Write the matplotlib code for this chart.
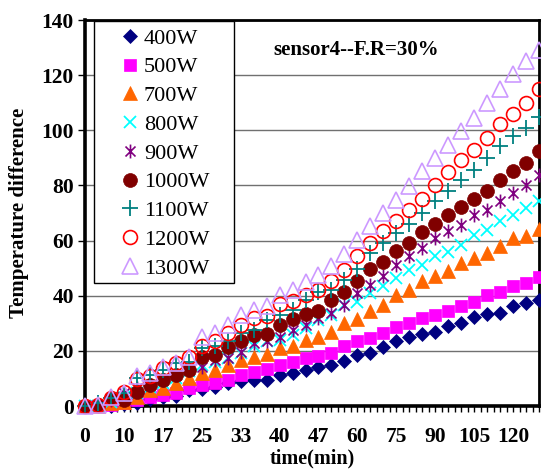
import matplotlib
matplotlib.use("Agg")
import matplotlib.pyplot as plt
from matplotlib.path import Path
from matplotlib.patches import Rectangle
import numpy as np

# ---------------- data ----------------
tick_labels = ["0", "10", "17", "25", "33", "40", "47", "60", "75", "90", "105", "120"]
series_names = ["400W", "500W", "700W", "800W", "900W", "1000W", "1100W", "1200W", "1300W"]

w400 = [0, 0, 0, 0.7, 1, 2.5, 3.2, 3.8, 5.8, 6, 6.8, 8.2, 9, 9.6, 9.6, 11.4, 12.1, 13.1, 14,
        14.9, 16.5, 18.4, 19.1, 21.3, 23.4, 25.2, 26, 27, 29, 30, 32.2, 33.4, 33.9, 36.3, 37.3, 38.5]
w500 = [0, 0, 0.5, 1, 2.2, 3.4, 4, 4.6, 6.4, 7.6, 8.5, 9.4, 11.3, 12.5, 13.3, 14.9, 16.1, 17.3, 18.2,
        19.4, 21.6, 23.4, 24.6, 26.4, 28.8, 30, 31.9, 33, 34.3, 36.1, 37.9, 40.3, 41.5, 43.4, 44.6, 46.7]
w700 = [0, 0, 1, 1.5, 3.4, 5.8, 6.4, 8.2, 10, 11.9, 13.1, 14.9, 16.7, 17.9, 18.9, 21, 21.6, 24, 25.2,
        27, 30, 31.5, 34.3, 36.7, 40.3, 42.1, 45.2, 47.2, 48.8, 51.8, 53.6, 55.5, 57.9, 60.9, 61.5, 64.2]
w800 = [0, 0, 1.6, 3.4, 4.8, 7, 8.5, 10, 12.8, 14.9, 16.1, 17.3, 19.1, 21.6, 23.4, 24, 25.8, 28.2, 31.2,
        33, 36.7, 37.9, 40.9, 43.4, 46.4, 49.4, 51.2, 54.3, 56, 58.5, 62.1, 64, 67, 69.4, 71.8, 74.2]
w900 = [0, 0.5, 2.2, 4.6, 6.4, 7.6, 9.4, 11.3, 13.1, 14.3, 16.7, 17.3, 19.7, 22.8, 23.4, 25.2, 27.6, 29.4, 31.9,
        33.7, 36.7, 40.9, 44, 47, 51.2, 54.3, 57.3, 60.9, 63.3, 65.8, 69.4, 71.2, 74.2, 77.3, 80.3, 83.9]
w1000 = [0, 0.5, 2.8, 2.2, 5.2, 7.6, 9.4, 11.3, 13.1, 17.9, 18.5, 21.3, 23.4, 25.8, 26.2, 29.4, 31.5, 33.4, 34.6,
         38.5, 41.2, 45.4, 49.7, 52.1, 56.1, 59.1, 63, 66.1, 69.4, 72.2, 75.1, 77.9, 82.1, 85.1, 88.2, 92.4]
w1100 = [0, 1, 2.8, 4.6, 10, 11.3, 13.1, 15.5, 16.1, 21, 21.6, 23.4, 26.4, 27.6, 31.2, 33, 34.9, 38.5, 41.5,
         42.1, 45.8, 49.7, 55.5, 59.1, 62.7, 66.1, 70, 74.2, 77.9, 82.1, 85.7, 90, 94.2, 97.9, 100.9, 105]
w1200 = [0, 0.5, 2.8, 5.2, 9.7, 11, 13.7, 15.7, 17.7, 21.6, 23.7, 26.4, 29.4, 31.9, 32.7, 36.9, 38.1, 40.3, 42.1,
         45.2, 49.4, 54.5, 59.1, 63.3, 67, 71.2, 75.2, 80.3, 84.9, 89.1, 92.8, 97.3, 102.1, 106, 110, 114.8]
w1300 = [0, 0.5, 3.4, 4.6, 10.7, 11.9, 14.3, 15.5, 17.9, 25.2, 26.4, 29.4, 33, 34.9, 36.1, 40.3, 42.1, 44.8, 47.6,
         50.6, 55.2, 60.3, 65.2, 70, 74.8, 79.7, 85.1, 90, 94.8, 99.7, 104.5, 110, 114.8, 120.3, 125.1, 129.3]

values = [w400, w500, w700, w800, w900, w1000, w1100, w1200, w1300]

# ---------------- styles ----------------
asterisk = Path([(0, -1), (0, 1), (-0.72, -0.72), (0.72, 0.72), (-0.72, 0.72), (0.72, -0.72)],
                [Path.MOVETO, Path.LINETO, Path.MOVETO, Path.LINETO, Path.MOVETO, Path.LINETO])
styles = [
    dict(marker="D", ms=7.5, color="#000080", mfc="#000080", mew=0.5),
    dict(marker="s", ms=8.5, color="#FF00FF", mfc="#FF00FF", mew=0.5),
    dict(marker="^", ms=10, color="#FF6600", mfc="#FF6600", mew=0.5),
    dict(marker="x", ms=9, color="#00FFFF", mew=1.3),
    dict(marker=asterisk, ms=10, color="#800080", mew=1.2),
    dict(marker="o", ms=10, color="#800000", mfc="#800000", mew=0.5),
    dict(marker="+", ms=11, color="#008080", mew=1.3),
    dict(marker="o", ms=10, color="#FF0000", mfc="none", mew=1.2),
    dict(marker="^", ms=11, color="#CC99FF", mfc="none", mew=1.2),
]

plt.rcParams["font.family"] = ["Liberation Serif", "DejaVu Serif"]

fig = plt.figure(figsize=(5.41, 4.71), dpi=100)
ax = fig.add_axes([85 / 541, 1 - 406 / 471, (539 - 85) / 541, (406 - 20) / 471])

x = np.arange(len(w400))
for name, vals, st in zip(series_names, values, styles):
    ax.plot(x, vals, linestyle="none", label=name, clip_on=False, zorder=3, **st)

ax.set_xlim(0, len(w400) - 1)
ax.set_ylim(0, 140)
ax.set_yticks(np.arange(0, 141, 20))
ax.set_xticks(np.arange(0, 3 * len(tick_labels), 3))
ax.set_xticklabels(tick_labels)
ax.set_xticks(np.arange(0, len(w400) - 0.5, 0.5), minor=True)

ax.grid(axis="y", color="#707070", linewidth=1.0, zorder=1)
ax.set_axisbelow(True)

for side in ["left", "bottom"]:
    ax.spines[side].set_linewidth(2.6)
for side in ["top", "right"]:
    ax.spines[side].set_linewidth(2.0)

ax.tick_params(axis="y", direction="out", length=5, width=1.0, labelsize=15.5, pad=3)
ax.tick_params(axis="x", which="major", direction="out", length=4, width=1.0, labelsize=15.5, pad=11)
ax.tick_params(axis="x", which="minor", direction="out", length=4, width=1.0)
for lab in ax.get_xticklabels() + ax.get_yticklabels():
    lab.set_fontweight("bold")

ax.set_xlabel("time(min)", fontsize=14.5, fontweight="bold", labelpad=1)
ax.set_ylabel("Temperature difference", fontsize=15, fontweight="bold", labelpad=9)

ax.text(0.598, 0.922, "sensor4--F.R=30%", transform=ax.transAxes, ha="center", va="center",
        fontsize=15, fontweight="bold")

# legend box (drawn as a separate frame, legend placed inside)
box = Rectangle((9 / 454, (406 - 283) / 386), 140 / 454, 262 / 386, transform=ax.transAxes,
                facecolor="white", edgecolor="black", linewidth=1.0, zorder=4, clip_on=False)
ax.add_patch(box)
leg = ax.legend(loc="upper left", bbox_to_anchor=((119 - 85) / 454, (406 - 28) / 386), frameon=False,
                fontsize=16, labelspacing=0.37, handlelength=1.0, handletextpad=0.12,
                borderpad=0.0, borderaxespad=0.0, numpoints=1)
leg.set_zorder(5)

fig.savefig("out.png", dpi=100)
